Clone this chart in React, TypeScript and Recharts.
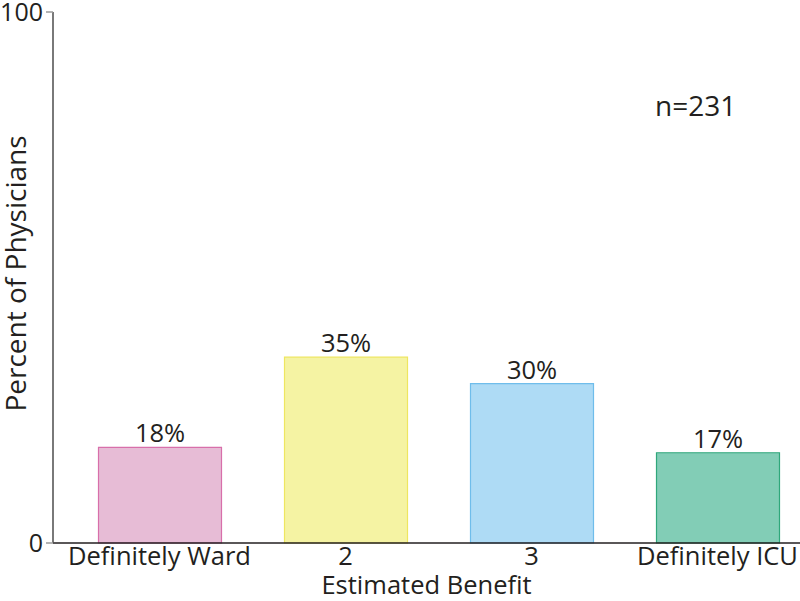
import React from "react";
import { BarChart, Bar, XAxis, YAxis, LabelList, Cell, Label } from "recharts";

const categories = ["Definitely Ward", "2", "3", "Definitely ICU"];
const percents = [18, 35, 30, 17];
const fills = ["#E7BCD6", "#F5F3A3", "#AEDBF5", "#82CDB6"];
const strokes = ["#D86FAA", "#EEE660", "#6FBDEB", "#2FA77B"];
const yTicks = [0, 100];
const sampleNote = "n=231";

const data = categories.map((name, i) => ({ name, value: percents[i] }));

const FONT = "'Open Sans', 'Noto Sans', sans-serif";

export default function App() {
  return (
    <div style={{ position: "absolute", left: 0, top: 0, width: 800, height: 601, fontFamily: FONT }}>
      <BarChart
        width={800}
        height={601}
        data={data}
        margin={{ top: 12, right: 0, left: 0, bottom: 0 }}
      >
        <XAxis
          dataKey="name"
          height={58}
          padding={{ left: 13.5, right: -10.5 }}
          axisLine={{ stroke: "#231F20", strokeWidth: 1.5 }}
          tickLine={false}
          tick={{ fill: "#231F20", fontSize: 25.5, fontFamily: FONT }}
          tickMargin={-2}
        >
          <Label
            value="Estimated Benefit"
            position="insideBottom"
            offset={7}
            style={{ fill: "#231F20", fontSize: 25.5, fontFamily: FONT }}
          />
        </XAxis>
        <YAxis
          width={53}
          domain={[0, 100]}
          ticks={yTicks}
          interval={0}
          axisLine={{ stroke: "#4D4D4D", strokeWidth: 1.5 }}
          tickLine={{ stroke: "#9A9A9A", strokeWidth: 1.5 }}
          tickSize={7}
          tickMargin={3}
          tick={{ fill: "#231F20", fontSize: 25, fontFamily: FONT }}
        >
          <Label
            content={({ viewBox }: any) => {
              const cx = 15;
              const cy = viewBox.y + viewBox.height / 2 - 4;
              return (
                <text
                  x={cx}
                  y={cy}
                  transform={`rotate(-90 ${cx} ${cy})`}
                  textAnchor="middle"
                  dominantBaseline="central"
                  fill="#231F20"
                  fontSize={28}
                  fontFamily={FONT}
                >
                  Percent of Physicians
                </text>
              );
            }}
          />
        </YAxis>
        <Bar dataKey="value" barSize={123} isAnimationActive={false}>
          {data.map((d, i) => (
            <Cell key={d.name} fill={fills[i]} stroke={strokes[i]} strokeWidth={1.2} />
          ))}
          <LabelList
            dataKey="value"
            position="top"
            offset={5}
            formatter={(v: any) => `${v}%`}
            style={{ fill: "#231F20", fontSize: 25.5, fontFamily: FONT }}
          />
        </Bar>
      </BarChart>
      <div
        style={{
          position: "absolute",
          left: 655,
          top: 86,
          fontSize: 28,
          color: "#231F20",
          lineHeight: "38px",
        }}
      >
        {sampleNote}
      </div>
    </div>
  );
}
